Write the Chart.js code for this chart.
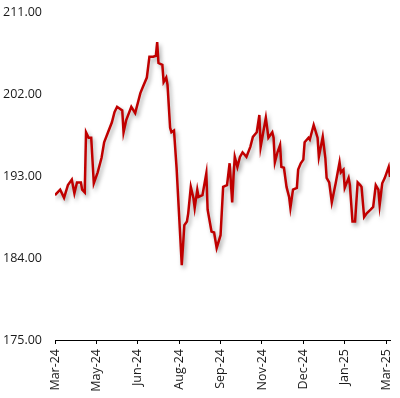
<!DOCTYPE html>
<html>
<head>
<meta charset="utf-8">
<script src="https://cdn.jsdelivr.net/npm/chart.js@4.4.1/dist/chart.umd.min.js"></script>
<style>
  html, body { margin: 0; padding: 0; background: #fff; }
  #wrap { width: 400px; height: 398px; position: relative; }
</style>
</head>
<body>
<div id="wrap"><canvas id="c"></canvas></div>
<script>
// x axis labels, one every 32 trading days
const tickLabels = ['Mar-24', 'May-24', 'Jun-24', 'Aug-24', 'Sep-24', 'Nov-24', 'Dec-24', 'Jan-25', 'Mar-25'];
const daysPerLabel = 32;

// trading day index (from the first label) and closing value
const days = [
    0, 4, 7, 10, 13, 15, 17, 20, 21, 23, 24, 26, 28, 30, 33, 36, 38, 41, 44, 46,
    48, 52, 53, 55, 59, 62, 66, 68, 71, 73, 76, 78, 79, 80, 83, 84, 86, 87, 89, 90,
    92, 94, 98, 100, 102, 103, 105, 107, 108, 110, 111, 114, 117, 118, 121, 123, 125, 128, 130, 133,
    135, 137, 138, 139, 141, 143, 145, 148, 151, 153, 156, 158, 159, 161, 163, 165, 168, 169, 170, 172,
    174, 175, 177, 179, 181, 182, 184, 187, 188, 190, 192, 193, 196, 197, 200, 203, 204, 207, 209, 210,
    212, 214, 217, 220, 221, 223, 224, 227, 228, 230, 232, 234, 236, 237, 239, 241, 244, 246, 248, 250,
    251, 253, 255, 258, 259
];
const prices = [
    190.9, 191.5, 190.6, 192.0, 192.6, 191.1, 192.3, 192.3, 191.5, 191.2, 197.8, 197.2, 197.2, 192.2, 193.4, 195.0, 196.7, 197.8, 198.9, 200.0,
    200.6, 200.2, 197.8, 199.1, 200.6, 199.9, 202.1, 202.8, 203.8, 206.1, 206.1, 206.2, 207.7, 205.4, 205.2, 203.3, 203.8, 203.0, 198.3, 197.8,
    198.0, 193.9, 183.2, 187.6, 188.0, 188.9, 191.8, 190.6, 189.5, 191.5, 190.7, 190.9, 193.3, 189.3, 186.9, 186.8, 185.1, 186.5, 191.8, 192.0,
    194.4, 190.1, 192.9, 195.1, 194.0, 195.1, 195.6, 195.1, 196.2, 197.3, 197.8, 199.7, 196.2, 197.8, 199.4, 197.2, 197.8, 197.2, 194.5, 195.6,
    196.4, 194.0, 193.9, 191.8, 190.7, 189.5, 191.5, 191.7, 193.7, 194.4, 194.8, 196.7, 197.2, 197.0, 198.6, 197.2, 195.1, 197.3, 195.0, 192.8,
    192.3, 190.1, 192.2, 194.5, 193.4, 193.7, 191.7, 192.8, 192.0, 188.0, 188.0, 192.3, 192.0, 191.8, 188.5, 188.9, 189.3, 189.6, 192.0, 191.5,
    189.8, 192.2, 192.8, 194.0, 192.9
];

const yMin = 175, yMax = 211, yStep = 9;

const points = days.map((d, i) => ({ x: d, y: prices[i] }));

// soft drop shadow under the line, like the office chart
const lineShadow = {
    id: 'lineShadow',
    beforeDatasetsDraw(chart) {
        const ctx = chart.ctx;
        ctx.save();
        ctx.shadowColor = 'rgba(0,0,0,0.35)';
        ctx.shadowBlur = 4;
        ctx.shadowOffsetX = 2;
        ctx.shadowOffsetY = 3;
    },
    afterDatasetsDraw(chart) {
        chart.ctx.restore();
    }
};

const font = { family: '"Open Sans", "Liberation Sans", sans-serif', size: 12.5 };

new Chart(document.getElementById('c'), {
    type: 'line',
    data: {
        datasets: [{
            data: points,
            borderColor: '#C00000',
            borderWidth: 2.5,
            pointRadius: 0,
            tension: 0,
            fill: false
        }]
    },
    options: {
        responsive: true,
        maintainAspectRatio: false,
        animation: false,
        layout: { padding: { top: 12, right: 10, bottom: 0, left: 0 } },
        plugins: {
            legend: { display: false },
            tooltip: { enabled: false }
        },
        scales: {
            x: {
                type: 'linear',
                min: 0,
                max: 259,
                afterBuildTicks: (s) => {
                    s.ticks = tickLabels.map((_, i) => ({ value: i * daysPerLabel }));
                },
                afterFit: (s) => {
                    s.height = 58;
                    s.paddingLeft = 0;
                    s.paddingRight = 0;
                },
                grid: {
                    display: true,
                    drawOnChartArea: false,
                    drawTicks: true,
                    tickLength: 4,
                    color: '#000'
                },
                border: { display: true, color: '#000', width: 1 },
                ticks: {
                    autoSkip: false,
                    maxRotation: 90,
                    minRotation: 90,
                    padding: 5,
                    color: '#1a1a1a',
                    font: font,
                    callback: (v) => tickLabels[Math.round(v / daysPerLabel)]
                }
            },
            y: {
                min: yMin,
                max: yMax,
                afterFit: (s) => {
                    s.width = 55;
                    s.paddingTop = 0;
                    s.paddingBottom = 0;
                },
                grid: { display: false, drawTicks: false },
                border: { display: false },
                ticks: {
                    stepSize: yStep,
                    padding: 13,
                    color: '#1a1a1a',
                    font: font,
                    callback: (v) => v.toFixed(2)
                }
            }
        }
    },
    plugins: [lineShadow]
});
</script>
</body>
</html>
